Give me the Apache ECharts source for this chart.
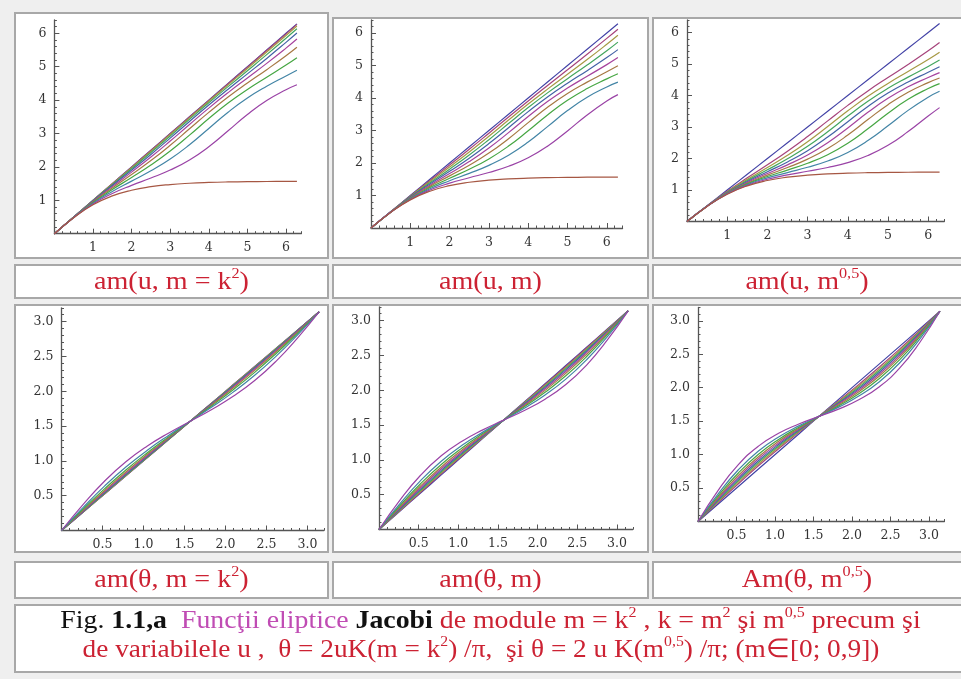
<!DOCTYPE html>
<html><head><meta charset="utf-8">
<script src="https://cdn.jsdelivr.net/npm/echarts@6/dist/echarts.min.js"></script>
<style>html,body{margin:0;padding:0;background:#efefef;}#c{width:961px;height:679px;}</style>
</head><body><div id="c"></div>
<script>
// ---------- DATA ----------
const uVals = [0,0.5,1,1.5,2,2.5,3,3.5,4,4.5,5,5.5,6,6.283];
const thetaVals = [0,0.262,0.524,0.785,1.047,1.309,1.571,1.833,2.094,2.356,2.618,2.880,3.142];
const topTickLabels = ['1','2','3','4','5','6'];
const botTickLabels = ['0.5','1.0','1.5','2.0','2.5','3.0'];

// am(u, m = k^2), k = 0 ... 1
const amUK2 = [
 [0,0.5,1,1.5,2,2.5,3,3.5,4,4.5,5,5.5,6,6.283],
 [0,0.5,0.999,1.496,1.994,2.493,2.992,3.492,3.991,4.489,4.987,5.485,5.984,6.267],
 [0,0.499,0.995,1.486,1.976,2.470,2.968,3.468,3.965,4.457,4.947,5.439,5.936,6.219],
 [0,0.498,0.988,1.468,1.946,2.431,2.926,3.425,3.919,4.403,4.880,5.361,5.852,6.134],
 [0,0.497,0.978,1.443,1.902,2.373,2.862,3.361,3.853,4.326,4.786,5.248,5.728,6.007],
 [0,0.495,0.966,1.410,1.844,2.294,2.773,3.270,3.760,4.224,4.663,5.099,5.556,5.828],
 [0,0.493,0.951,1.369,1.771,2.189,2.647,3.140,3.633,4.091,4.510,4.911,5.329,5.583],
 [0,0.490,0.934,1.322,1.681,2.054,2.474,2.951,3.448,3.913,4.320,4.686,5.049,5.268],
 [0,0.487,0.914,1.266,1.574,1.882,2.235,2.663,3.151,3.638,4.063,4.414,4.721,4.893],
 [0,0.484,0.891,1.203,1.448,1.667,1.906,2.208,2.603,3.080,3.569,3.988,4.310,4.459],
 [0,0.480,0.866,1.132,1.302,1.407,1.471,1.510,1.534,1.549,1.557,1.563,1.566,1.567]
];
// am(u, m), m = 0 ... 1
const amUM = [
 [0,0.5,1,1.5,2,2.5,3,3.5,4,4.5,5,5.5,6,6.283],
 [0,0.498,0.986,1.464,1.939,2.422,2.917,3.416,3.910,4.392,4.867,5.345,5.835,6.117],
 [0,0.496,0.973,1.428,1.876,2.338,2.823,3.322,3.813,4.281,4.731,5.183,5.653,5.930],
 [0,0.494,0.959,1.391,1.811,2.247,2.718,3.214,3.705,4.165,4.594,5.014,5.454,5.720],
 [0,0.492,0.946,1.355,1.744,2.149,2.597,3.087,3.581,4.040,4.453,4.842,5.244,5.489],
 [0,0.490,0.932,1.318,1.674,2.043,2.460,2.934,3.431,3.897,4.305,4.668,5.027,5.243],
 [0,0.488,0.919,1.281,1.603,1.930,2.304,2.749,3.242,3.722,4.139,4.489,4.808,4.992],
 [0,0.486,0.906,1.244,1.530,1.809,2.126,2.520,2.991,3.486,3.930,4.291,4.588,4.744],
 [0,0.484,0.892,1.206,1.455,1.680,1.927,2.239,2.644,3.127,3.613,4.023,4.340,4.487],
 [0,0.482,0.879,1.169,1.379,1.546,1.707,1.900,2.161,2.524,2.986,3.479,3.909,4.104],
 [0,0.480,0.866,1.132,1.302,1.407,1.471,1.510,1.534,1.549,1.557,1.563,1.566,1.567]
];
// am(u, m^0,5)
const amUSqrt = [
 [0,0.5,1,1.5,2,2.5,3,3.5,4,4.5,5,5.5,6,6.283],
 [0,0.494,0.957,1.385,1.800,2.232,2.699,3.195,3.686,4.146,4.571,4.986,5.421,5.684],
 [0,0.491,0.939,1.337,1.711,2.100,2.535,3.018,3.514,3.975,4.384,4.761,5.142,5.374],
 [0,0.489,0.926,1.300,1.640,1.990,2.388,2.851,3.347,3.819,4.229,4.584,4.922,5.124],
 [0,0.488,0.915,1.269,1.579,1.891,2.248,2.680,3.169,3.654,4.077,4.428,4.737,4.911],
 [0,0.486,0.905,1.241,1.524,1.799,2.113,2.502,2.970,3.466,3.912,4.275,4.572,4.726],
 [0,0.485,0.896,1.216,1.474,1.713,1.980,2.316,2.744,3.235,3.710,4.104,4.409,4.555],
 [0,0.484,0.887,1.193,1.427,1.632,1.848,2.121,2.484,2.943,3.438,3.880,4.223,4.377],
 [0,0.482,0.880,1.171,1.383,1.554,1.721,1.921,2.192,2.570,3.037,3.528,3.947,4.135],
 [0,0.481,0.873,1.151,1.341,1.479,1.595,1.715,1.871,2.094,2.418,2.854,3.348,3.615],
 [0,0.480,0.866,1.132,1.302,1.407,1.471,1.510,1.534,1.549,1.557,1.563,1.566,1.567]
];
// am(theta, m = k^2)
const amTK2 = [
 [0,0.262,0.524,0.785,1.047,1.309,1.571,1.833,2.094,2.356,2.618,2.880,3.142],
 [0,0.262,0.525,0.787,1.048,1.310,1.571,1.832,2.093,2.355,2.617,2.879,3.142],
 [0,0.264,0.528,0.791,1.052,1.312,1.571,1.830,2.090,2.351,2.614,2.877,3.142],
 [0,0.268,0.534,0.797,1.057,1.315,1.571,1.827,2.084,2.344,2.608,2.874,3.142],
 [0,0.273,0.543,0.807,1.066,1.320,1.571,1.822,2.076,2.334,2.599,2.869,3.142],
 [0,0.280,0.555,0.821,1.078,1.327,1.571,1.815,2.064,2.320,2.587,2.862,3.142],
 [0,0.290,0.572,0.841,1.095,1.336,1.571,1.805,2.047,2.301,2.569,2.851,3.142],
 [0,0.305,0.598,0.869,1.118,1.349,1.571,1.792,2.023,2.272,2.544,2.836,3.142],
 [0,0.329,0.637,0.912,1.153,1.369,1.571,1.773,1.988,2.230,2.505,2.813,3.142],
 [0,0.373,0.708,0.987,1.214,1.402,1.571,1.740,1.928,2.154,2.434,2.769,3.142]
];
// am(theta, m)
const amTM = [
 [0,0.262,0.524,0.785,1.047,1.309,1.571,1.833,2.094,2.356,2.618,2.880,3.142],
 [0,0.268,0.535,0.799,1.059,1.316,1.571,1.826,2.083,2.343,2.607,2.873,3.142],
 [0,0.276,0.548,0.813,1.071,1.323,1.571,1.819,2.070,2.328,2.594,2.866,3.142],
 [0,0.285,0.563,0.830,1.085,1.331,1.571,1.811,2.056,2.312,2.579,2.857,3.142],
 [0,0.295,0.580,0.849,1.101,1.340,1.571,1.802,2.040,2.293,2.562,2.847,3.142],
 [0,0.307,0.600,0.872,1.120,1.351,1.571,1.791,2.021,2.270,2.542,2.835,3.142],
 [0,0.322,0.625,0.899,1.143,1.363,1.571,1.778,1.999,2.243,2.517,2.820,3.142],
 [0,0.341,0.657,0.934,1.171,1.379,1.571,1.763,1.971,2.208,2.485,2.800,3.142],
 [0,0.369,0.702,0.981,1.209,1.399,1.571,1.742,1.933,2.160,2.439,2.772,3.142],
 [0,0.418,0.779,1.059,1.268,1.431,1.571,1.710,1.873,2.083,2.363,2.723,3.142]
];
// Am(theta, m^0,5)
const amTSqrt = [
 [0,0.262,0.524,0.785,1.047,1.309,1.571,1.833,2.094,2.356,2.618,2.880,3.142],
 [0,0.286,0.565,0.833,1.088,1.332,1.571,1.809,2.054,2.309,2.576,2.856,3.142],
 [0,0.300,0.589,0.859,1.110,1.345,1.571,1.797,2.032,2.282,2.553,2.842,3.142],
 [0,0.313,0.611,0.884,1.130,1.356,1.571,1.785,2.011,2.258,2.530,2.828,3.142],
 [0,0.327,0.634,0.909,1.151,1.368,1.571,1.774,1.990,2.232,2.507,2.814,3.142],
 [0,0.343,0.660,0.937,1.173,1.380,1.571,1.762,1.968,2.205,2.482,2.799,3.142],
 [0,0.361,0.689,0.967,1.198,1.393,1.571,1.748,1.944,2.174,2.453,2.781,3.142],
 [0,0.384,0.725,1.005,1.227,1.409,1.571,1.732,1.914,2.137,2.417,2.758,3.142],
 [0,0.414,0.773,1.053,1.264,1.429,1.571,1.713,1.878,2.089,2.369,2.727,3.142],
 [0,0.466,0.849,1.127,1.319,1.457,1.571,1.684,1.823,2.015,2.292,2.676,3.142]
];

// ---------- STYLE / LAYOUT ----------
const palette = ['#4242a6','#a6437b','#a69943','#43a65e','#4362a6','#a6439d','#a67843','#46a643','#4385a6','#9a43a6','#a65743'];
const RED = '#cc2233';
const panels = [
 {x:uVals, ys:amUK2,  ox:54.4, oy:233.7, ux:38.6, uy:33.4, max:6.4, majMax:6, maj:1,   mnr:0.2, lab:topTickLabels},
 {x:uVals, ys:amUM,   ox:371,  oy:228,   ux:39.3, uy:32.5, max:6.4, majMax:6, maj:1,   mnr:0.2, lab:topTickLabels},
 {x:uVals, ys:amUSqrt,ox:687,  oy:221.5, ux:40.2, uy:31.5, max:6.4, majMax:6, maj:1,   mnr:0.2, lab:topTickLabels},
 {x:thetaVals, ys:amTK2,  ox:61.5, oy:530.5, ux:82,   uy:69.6, max:3.2, majMax:3, maj:0.5, mnr:0.1, lab:botTickLabels},
 {x:thetaVals, ys:amTM,   ox:379,  oy:529.5, ux:79.3, uy:69.6, max:3.2, majMax:3, maj:0.5, mnr:0.1, lab:botTickLabels},
 {x:thetaVals, ys:amTSqrt,ox:698,  oy:521.5, ux:77,   uy:66.9, max:3.2, majMax:3, maj:0.5, mnr:0.1, lab:botTickLabels}
];

const grid = [], xAxis = [], yAxis = [], series = [];
const AX = '#555';
panels.forEach((P, p) => {
  grid.push({left:P.ox, top:P.oy - P.max*P.uy, width:P.max*P.ux, height:P.max*P.uy, containLabel:false, outerBoundsMode:'none'});
  grid.push({left:P.ox, top:P.oy - P.majMax*P.uy, width:P.majMax*P.ux, height:P.majMax*P.uy, containLabel:false, outerBoundsMode:'none'});
  const fmt = v => { const i = Math.round(v / P.maj); return i >= 1 ? P.lab[i-1] : ''; };
  const minor = (gi) => ({gridIndex:gi, type:'value', min:0, max:P.max, interval:P.mnr,
    axisLine:{show:true, onZero:false, lineStyle:{color:AX, width:1.3}},
    axisTick:{show:true, inside:true, length:2.5, lineStyle:{color:AX, width:1}},
    axisLabel:{show:false}, splitLine:{show:false}});
  const major = (gi) => ({gridIndex:gi, type:'value', min:0, max:P.majMax, interval:P.maj,
    axisLine:{show:false, onZero:false},
    axisTick:{show:true, inside:true, length:5, lineStyle:{color:AX, width:1}},
    axisLabel:{show:true, margin:8, fontFamily:'DejaVu Serif', fontSize:12.5, color:'#333', formatter:fmt},
    splitLine:{show:false}});
  xAxis.push(Object.assign(minor(2*p), {position:'bottom'}));
  xAxis.push(Object.assign(major(2*p+1), {position:'bottom'}));
  yAxis.push(Object.assign(minor(2*p), {position:'left'}));
  yAxis.push(Object.assign(major(2*p+1), {position:'left'}));
  P.ys.forEach((ys, i) => {
    series.push({type:'line', xAxisIndex:2*p, yAxisIndex:2*p,
      data:P.x.map((xv, j) => [xv, ys[j]]),
      showSymbol:false, symbol:'none', smooth:true, clip:false, silent:true,
      lineStyle:{color:palette[i], width:1.2}, z:2+i});
  });
});

// ---------- TABLE FRAME & TEXTS ----------
const cells = [
 [15,13,313,245],[333,18,315,240],[653,18,320,240],
 [15,265,313,33],[333,265,315,33],[653,265,320,33],
 [15,305,313,247],[333,305,315,247],[653,305,320,247],
 [15,562,313,36],[333,562,315,36],[653,562,320,36],
 [15,605,958,67]
];
const graphic = cells.map(c => ({type:'rect', z:-5, silent:true,
  shape:{x:c[0], y:c[1], width:c[2], height:c[3]},
  style:{fill:'#ffffff', stroke:'#a8a8a8', lineWidth:2}}));

const SERIF = 'Liberation Serif';
const FS = 26;
const richBase = {
  n:{fontFamily:SERIF, fontSize:FS, fill:RED, lineHeight:30},
  s:{fontFamily:SERIF, fontSize:15, fill:RED, lineHeight:15, verticalAlign:'top'},
  k:{fontFamily:SERIF, fontSize:FS, fill:'#111', lineHeight:30},
  kb:{fontFamily:SERIF, fontSize:FS, fill:'#111', fontWeight:'bold', lineHeight:30},
  p:{fontFamily:SERIF, fontSize:FS, fill:'#c04cb4', lineHeight:30}
};
function txt(x, y, text, sx) {
  return {type:'text', x:x, y:y, z:10, silent:true, scaleX:sx || 1,
    style:{text:text, rich:richBase, x:0, y:0, align:'center', verticalAlign:'middle',
      textAlign:'center', textVerticalAlign:'middle', fontFamily:SERIF, fontSize:FS, fill:RED}};
}
const plotLabels = [
 [171.5, 282, '{n|am(u, m = k}{s|2}{n|)}'],
 [490.5, 282, '{n|am(u, m)}'],
 [807,   282, '{n|am(u, m}{s|0,5}{n|)}'],
 [171.5, 580, '{n|am(θ, m = k}{s|2}{n|)}'],
 [490.5, 580, '{n|am(θ, m)}'],
 [807,   580, '{n|Am(θ, m}{s|0,5}{n|)}']
];
plotLabels.forEach(l => graphic.push(txt(l[0], l[1], l[2], 1.08)));
graphic.push(txt(490.5, 621, '{k|Fig.}{kb| 1.1,a}{p|  Funcţii eliptice }{kb|Jacobi}{n| de module m = k}{s|2}{n| , k = m}{s|2}{n| şi m}{s|0,5}{n| precum şi}', 1.07));
graphic.push(txt(481, 650, '{n|de variabilele u ,  θ = 2uK(m = k}{s|2}{n|) /π,  şi θ = 2 u K(m}{s|0,5}{n|) /π; (m∈[0; 0,9])}', 1.05));

const chart = echarts.init(document.getElementById('c'), null, {renderer:'canvas'});
chart.setOption({
  backgroundColor:'#efefef',
  animation:false,
  textStyle:{fontFamily:SERIF},
  grid, xAxis, yAxis, series, graphic
});
</script>
</body></html>
